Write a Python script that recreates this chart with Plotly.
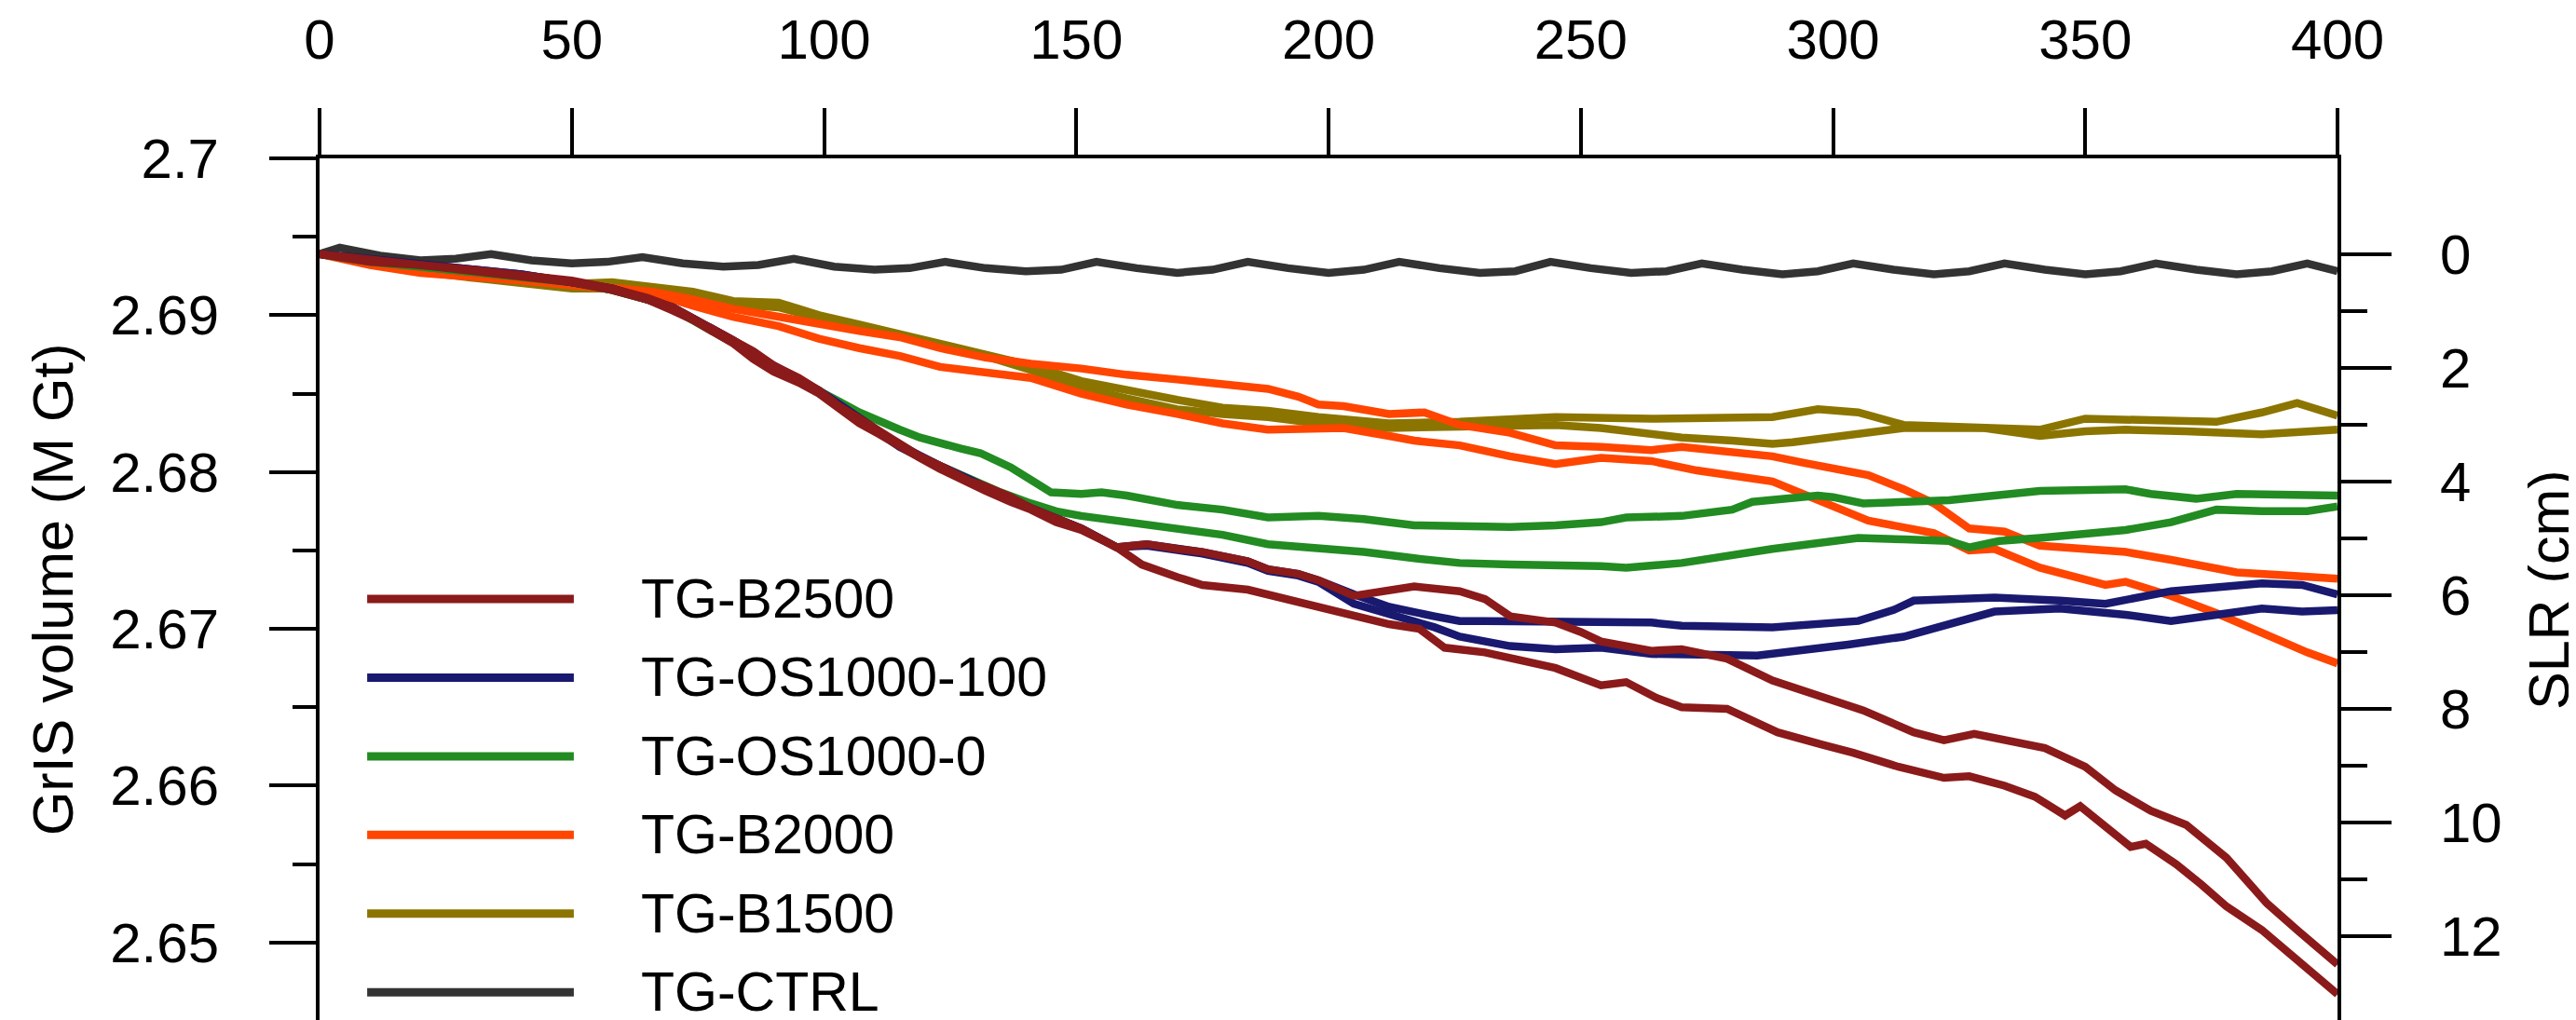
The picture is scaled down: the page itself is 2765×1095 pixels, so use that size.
import plotly.graph_objects as go

# ---------------- data (years, GrIS volume in M Gt) ----------------
CTRL_yr = [0,4,12,20,27,34,42,50,57,64,72,80,87,94,102,110,117,124,132,140,147,154,162,170,177,
           184,192,200,207,214,222,230,237,244,252,260,267,274,282,290,297,304,312,320,327,
           334,342,350,357,364,372,380,387,394,400]
CTRL_v = [2.6939,2.6943,2.6938,2.6935,2.6936,2.6939,2.6935,2.6933,2.6934,2.6937,
          2.6933,2.6931,2.6932,2.6936,2.6931,2.6929,2.6930,2.6934,2.6930,2.6928,
          2.6929,2.6934,2.6930,2.6927,2.6929,2.6934,2.6930,2.6927,2.6929,2.6934,
          2.6930,2.6927,2.6928,2.6934,2.6930,2.6927,2.6928,2.6933,2.6929,2.6926,
          2.6928,2.6933,2.6929,2.6926,2.6928,2.6933,2.6929,2.6926,2.6928,2.6933,
          2.6929,2.6926,2.6928,2.6933,2.6928]

B1500_a_yr = [0,10,20,30,40,50,58,66,74,82,91,95,99,107,115,123,132,141,151,160,170,179,188,198,212,226,
              245,264,270,279,288,297,305,314,323,332,341,350,358,367,376,385,392,400]
B1500_a_v = [2.6939,2.6934,2.6929,2.6925,2.6922,2.6920,2.6921,2.6918,2.6915,2.6909,2.6908,
             2.6904,2.6900,2.6894,2.6888,2.6882,2.6876,2.6868,2.6858,2.6852,2.6846,
             2.6841,2.6839,2.6835,2.6831,2.6832,2.6835,2.6834,2.6834,2.6835,2.6835,
             2.6840,2.6838,2.6830,2.6829,2.6829,2.6827,2.6834,2.6833,2.6833,2.6832,
             2.6838,2.6844,2.6836]
B1500_b_yr = [0,10,20,30,40,50,58,66,74,82,91,99,107,115,123,132,141,151,160,170,179,188,198,212,226,245,
              254,264,270,280,288,292,304,314,330,341,350,358,370,385,400]
B1500_b_v = [2.6939,2.6933,2.6928,2.6924,2.6920,2.6917,2.6917,2.6916,2.6912,2.6907,2.6905,
             2.6898,2.6893,2.6887,2.6880,2.6874,2.6865,2.6854,2.6847,2.6840,2.6837,
             2.6835,2.6831,2.6828,2.6829,2.6830,2.6828,2.6824,2.6822,2.6820,2.6818,
             2.6819,2.6824,2.6828,2.6828,2.6823,2.6826,2.6827,2.6826,2.6824,2.6827]

B2000_a_yr = [0,10,20,30,40,50,58,66,74,82,91,99,107,115,123,132,141,151,160,170,179,188,194,198,203,212,
              219,226,236,245,254,264,270,279,288,294,307,314,320,327,334,341,350,358,367,380,390,400]
B2000_a_v = [2.6939,2.6933,2.6928,2.6926,2.6923,2.6920,2.6918,2.6915,2.6910,2.6904,2.6899,
             2.6894,2.6890,2.6886,2.6879,2.6873,2.6869,2.6866,2.6862,2.6859,2.6856,
             2.6853,2.6848,2.6843,2.6842,2.6837,2.6838,2.6830,2.6825,2.6817,2.6816,
             2.6814,2.6816,2.6813,2.6810,2.6806,2.6798,2.6789,2.6780,2.6764,2.6762,
             2.6753,2.6751,2.6749,2.6744,2.6736,2.6734,2.6732]
B2000_b_yr = [0,10,20,30,40,50,58,66,74,82,91,99,107,115,123,132,141,151,160,170,179,188,198,203,212,217,
              226,236,245,254,264,273,288,299,307,320,327,332,341,354,358,367,376,389,394,400]
B2000_b_v = [2.6939,2.6932,2.6927,2.6925,2.6922,2.6919,2.6917,2.6914,2.6906,2.6899,2.6893,
             2.6885,2.6879,2.6874,2.6867,2.6863,2.6860,2.6850,2.6843,2.6837,2.6831,
             2.6827,2.6827,2.6828,2.6823,2.6820,2.6817,2.6810,2.6805,2.6809,2.6807,
             2.6801,2.6794,2.6780,2.6769,2.6761,2.6750,2.6751,2.6739,2.6728,2.6730,
             2.6721,2.6710,2.6692,2.6685,2.6678]

OS0_a_yr = [0,10,20,30,40,50,58,65,70,74,82,86,90,95,99,103,107,111,115,119,123,127,131,137,141,145,151,
            155,160,170,179,188,198,207,217,226,236,245,254,259,264,270,280,284,297,300,306,323,341,349,
            358,363,372,380,390,400]
OS0_a_v = [2.6939,2.6934,2.6931,2.6928,2.6925,2.6921,2.6916,2.6910,2.6904,2.6897,
           2.6883,2.6876,2.6867,2.6859,2.6852,2.6845,2.6838,2.6832,2.6827,2.6822,
           2.6818,2.6815,2.6812,2.6803,2.6795,2.6787,2.6786,2.6787,2.6785,2.6779,
           2.6776,2.6771,2.6772,2.6770,2.6766,2.6765,2.6765,2.6766,2.6768,2.6771,
           2.6771,2.6772,2.6776,2.6781,2.6785,2.6784,2.6780,2.6782,2.6788,2.6788,
           2.6789,2.6786,2.6783,2.6786,2.6785,2.6785]
OS0_b_yr = [0,10,20,30,40,50,58,65,70,74,82,86,90,95,99,103,107,111,115,119,123,129,135,141,146,151,160,
            170,179,188,198,207,217,226,236,245,254,259,264,270,288,305,314,323,327,333,341,350,358,367,
            376,385,394,400]
OS0_b_v = [2.6939,2.6934,2.6931,2.6928,2.6925,2.6921,2.6916,2.6910,2.6904,2.6897,
           2.6883,2.6875,2.6866,2.6858,2.6851,2.6841,2.6833,2.6825,2.6817,2.6810,
           2.6804,2.6795,2.6787,2.6780,2.6775,2.6772,2.6768,2.6764,2.6760,2.6754,
           2.6752,2.6749,2.6745,2.6742,2.6741,2.6741,2.6740,2.6739,2.6740,2.6742,
           2.6751,2.6758,2.6757,2.6756,2.6752,2.6756,2.6758,2.6761,2.6763,2.6768,
           2.6776,2.6775,2.6775,2.6778]

OS100_a_yr = [0,20,40,58,70,82,90,99,107,115,123,132,141,151,158,164,170,175,184,188,194,198,205,212,221,
              226,231,245,254,264,270,288,305,312,316,332,345,354,367,385,393,400]
OS100_a_v = [2.6939,2.6932,2.6926,2.6917,2.6905,2.6884,2.6868,2.6852,2.6834,2.6817,
             2.6804,2.6791,2.6777,2.6764,2.6752,2.6754,2.6751,2.6749,2.6743,2.6738,
             2.6735,2.6731,2.6722,2.6714,2.6708,2.6705,2.6705,2.6705,2.6704,2.6704,
             2.6702,2.6701,2.6705,2.6712,2.6718,2.6720,2.6718,2.6716,2.6724,2.6729,
             2.6728,2.6722]
OS100_b_yr = [0,20,40,58,70,82,90,99,107,115,123,132,141,151,158,164,170,175,184,188,194,198,205,212,221,
              226,236,245,254,264,270,285,303,314,332,345,358,367,376,385,393,400]
OS100_b_v = [2.6939,2.6932,2.6926,2.6917,2.6905,2.6884,2.6867,2.6851,2.6833,2.6816,
             2.6803,2.6790,2.6777,2.6764,2.6752,2.6753,2.6750,2.6748,2.6742,2.6737,
             2.6734,2.6730,2.6716,2.6710,2.6701,2.6695,2.6689,2.6687,2.6688,2.6684,
             2.6684,2.6683,2.6690,2.6695,2.6711,2.6713,2.6709,2.6705,2.6709,2.6713,
             2.6711,2.6712]

B2500_a_yr = [0,10,20,30,40,50,58,65,70,74,82,86,90,95,99,103,107,111,115,119,123,129,132,137,141,146,151,
              158,164,170,175,184,188,194,198,205,212,217,226,231,236,245,250,254,259,264,270,279,288,299,
              306,316,322,328,335,342,350,356,363,370,378,386,392,400]
B2500_a_v = [2.6939,2.6935,2.6932,2.6929,2.6926,2.6922,2.6917,2.6911,2.6905,2.6898,
             2.6884,2.6877,2.6868,2.6860,2.6852,2.6842,2.6834,2.6826,2.6817,2.6810,
             2.6804,2.6794,2.6791,2.6784,2.6777,2.6771,2.6764,2.6752,2.6754,2.6751,
             2.6749,2.6743,2.6738,2.6735,2.6731,2.6721,2.6725,2.6727,2.6724,2.6719,
             2.6708,2.6704,2.6698,2.6692,2.6689,2.6686,2.6687,2.6681,2.6667,2.6655,
             2.6648,2.6634,2.6629,2.6633,2.6628,2.6624,2.6612,2.6597,2.6584,2.6575,
             2.6554,2.6525,2.6508,2.6486]
B2500_b_yr = [0,10,20,30,40,50,58,65,70,74,82,86,90,95,99,103,107,111,115,119,123,129,132,137,141,146,151,
              158,163,170,175,184,193,203,212,218,223,231,240,245,254,259,265,270,279,289,298,304,313,322,
              327,334,340,346,349,354,359,362,368,373,378,385,392,400]
B2500_b_v = [2.6939,2.6934,2.6932,2.6928,2.6925,2.6921,2.6916,2.6910,2.6903,2.6897,
             2.6882,2.6872,2.6864,2.6857,2.6850,2.6840,2.6831,2.6824,2.6816,2.6809,
             2.6802,2.6792,2.6788,2.6781,2.6776,2.6768,2.6763,2.6752,2.6741,2.6733,
             2.6728,2.6725,2.6718,2.6710,2.6703,2.6700,2.6688,2.6685,2.6679,2.6675,
             2.6664,2.6666,2.6656,2.6650,2.6649,2.6634,2.6626,2.6621,2.6612,2.6605,
             2.6606,2.6600,2.6593,2.6581,2.6587,2.6574,2.6561,2.6563,2.6550,2.6537,
             2.6523,2.6508,2.6489,2.6467]

# legend / series metadata
LEGEND_NAMES = ["TG-B2500", "TG-OS1000-100", "TG-OS1000-0", "TG-B2000", "TG-B1500", "TG-CTRL"]
COLORS = {"TG-B2500": "#8B1A1A", "TG-OS1000-100": "#191970", "TG-OS1000-0": "#228B22",
          "TG-B2000": "#FF4500", "TG-B1500": "#8B7500", "TG-CTRL": "#333333"}

# tick values
X_TICKS = [0, 50, 100, 150, 200, 250, 300, 350, 400]
Y_TICKS = [2.65, 2.66, 2.67, 2.68, 2.69, 2.7]
Y_TICKTEXT = ["2.65", "2.66", "2.67", "2.68", "2.69", "2.7"]
Y_MINOR = [2.655, 2.665, 2.675, 2.685, 2.695]
SLR_TICKS = [0, 2, 4, 6, 8, 10, 12]
SLR_MINOR = [1, 3, 5, 7, 9, 11]

# drawing order: bottom to top
SERIES = [
    ("TG-CTRL", CTRL_yr, CTRL_v),
    ("TG-B1500", B1500_a_yr, B1500_a_v),
    ("TG-B1500", B1500_b_yr, B1500_b_v),
    ("TG-B2000", B2000_a_yr, B2000_a_v),
    ("TG-B2000", B2000_b_yr, B2000_b_v),
    ("TG-OS1000-0", OS0_a_yr, OS0_a_v),
    ("TG-OS1000-0", OS0_b_yr, OS0_b_v),
    ("TG-OS1000-100", OS100_a_yr, OS100_a_v),
    ("TG-OS1000-100", OS100_b_yr, OS100_b_v),
    ("TG-B2500", B2500_a_yr, B2500_a_v),
    ("TG-B2500", B2500_b_yr, B2500_b_v),
]

FONT = "Liberation Sans, Arial, Helvetica, sans-serif"
W, H = 2765, 1095
ML, MR, MT, MB = 335, 264, 162, 7
LW = 8.5

fig = go.Figure()
for name, xs, ys in SERIES:
    fig.add_trace(go.Scatter(x=xs, y=ys, mode="lines", name=name, showlegend=False,
                             line=dict(color=COLORS[name], width=LW), hoverinfo="skip"))
# empty trace so that the secondary axis is registered
fig.add_trace(go.Scatter(x=[], y=[], yaxis="y2", showlegend=False, hoverinfo="skip"))

axis_common = dict(showline=True, linewidth=4, linecolor="black", showgrid=False, zeroline=False,
                   ticks="outside", tickwidth=4, tickcolor="black", automargin=False,
                   tickfont=dict(family=FONT, size=60, color="black"))

fig.update_layout(
    width=W, height=H,
    margin=dict(l=ML, r=MR, t=MT, b=MB, pad=0, autoexpand=False),
    paper_bgcolor="white", plot_bgcolor="white",
    font=dict(family=FONT, size=60, color="black"),
    xaxis=dict(range=[0, 400], side="top", tickvals=X_TICKS, ticklen=50, mirror=True,
               ticklabelstandoff=29, **axis_common),
    yaxis=dict(range=[2.645, 2.7], tickvals=Y_TICKS, ticktext=Y_TICKTEXT, ticklen=50,
               ticklabelstandoff=42,
               minor=dict(tickvals=Y_MINOR, ticks="outside", ticklen=25, tickwidth=4,
                          tickcolor="black", showgrid=False),
               **axis_common),
    yaxis2=dict(overlaying="y", side="right", range=[13.495, -1.690], tickvals=SLR_TICKS,
                ticklen=54, ticklabelstandoff=40,
                minor=dict(tickvals=SLR_MINOR, ticks="outside", ticklen=28, tickwidth=4,
                           tickcolor="black", showgrid=False),
                **axis_common),
)

# axis titles
fig.add_annotation(text="GrIS volume (M Gt)", xref="paper", yref="paper", x=-0.132, y=0.5,
                   textangle=-90, showarrow=False, xanchor="center", yanchor="middle",
                   font=dict(family=FONT, size=61, color="black"))
fig.add_annotation(text="SLR (cm)", xref="paper", yref="paper", x=1.1048, y=0.5,
                   textangle=-90, showarrow=False, xanchor="center", yanchor="middle",
                   font=dict(family=FONT, size=61, color="black"))

# legend (inside plot, lower left)
LEG_X0, LEG_X1, LEG_TX = 0.0236, 0.1260, 0.1585
LEG_Y0, LEG_DY = 0.4892, 0.0912
for i, name in enumerate(LEGEND_NAMES):
    yy = LEG_Y0 - i * LEG_DY
    fig.add_shape(type="line", xref="paper", yref="paper", x0=LEG_X0, x1=LEG_X1, y0=yy, y1=yy,
                  line=dict(color=COLORS[name], width=9))
    fig.add_annotation(text=name, xref="paper", yref="paper", x=LEG_TX, y=yy, showarrow=False,
                       xanchor="left", yanchor="middle",
                       font=dict(family=FONT, size=59, color="black"))

fig.write_html("out.html")
